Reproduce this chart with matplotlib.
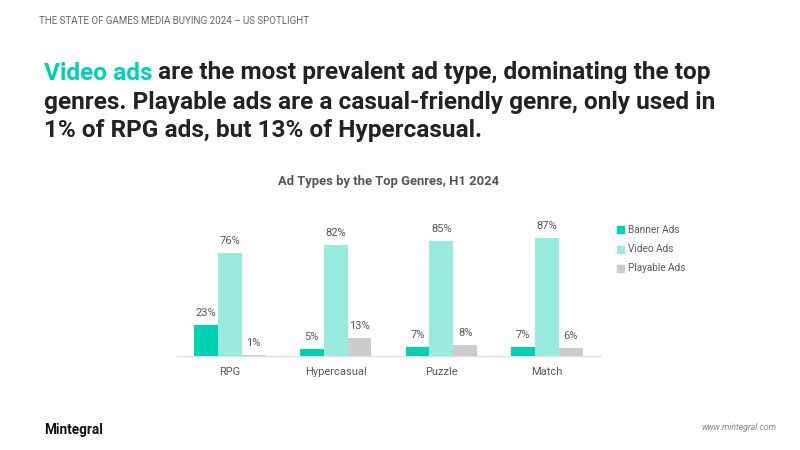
import matplotlib
matplotlib.use("Agg")
import matplotlib.pyplot as plt
import numpy as np

genres = ["RPG", "Hypercasual", "Puzzle", "Match"]
series_names = ["Banner Ads", "Video Ads", "Playable Ads"]
banner = [23, 5, 7, 7]
video = [76, 82, 85, 87]
playable = [1, 13, 8, 6]
colors = ["#00D1B2", "#99EBDD", "#CCCCCC"]

plt.rcParams['font.family'] = ['Roboto', 'DejaVu Sans']

W, H = 800, 450
fig = plt.figure(figsize=(8, 4.5), dpi=100)

ax_left, ax_right = 177 / W, 600 / W
ax_bottom = 1 - 356 / H
ax_top = 1 - (356 - 135.5) / H
ax = fig.add_axes([ax_left, ax_bottom, ax_right - ax_left, ax_top - ax_bottom])

x = np.arange(len(genres))
bw = 0.225
txtc = "#595959"
for i, (vals, name, c) in enumerate(zip([banner, video, playable], series_names, colors)):
    pos = x + (i - 1) * bw
    ax.bar(pos, vals, width=bw, color=c, label=name, zorder=3)
    for p, v in zip(pos, vals):
        ax.annotate(f"{v}%", (p, v), xytext=(0, 5), textcoords="offset points",
                    ha="center", va="bottom", fontsize=8, color=txtc)

ax.set_xlim(-0.5, 3.5)
ax.set_ylim(0, 100)
ax.set_xticks(x)
ax.set_xticklabels(genres, fontsize=8, color=txtc)
ax.tick_params(axis="x", length=0, pad=8)
ax.set_yticks([])
for s in ["top", "right", "left"]:
    ax.spines[s].set_visible(False)
ax.spines["bottom"].set_color("#E0E0E0")
ax.spines["bottom"].set_linewidth(1.0)
ax.spines["bottom"].set_zorder(1)
ax.patch.set_alpha(0)

# legend
leg_y = [230, 249, 268]
for yy, name, c in zip(leg_y, series_names, colors):
    fig.patches.append(plt.Rectangle((617 / W, 1 - (yy + 3.5) / H), 7 / W, 7 / H,
                                     transform=fig.transFigure, color=c, figure=fig))
    fig.text(628 / W, 1 - yy / H, name, fontsize=7.2, color=txtc, ha="left", va="center")

# chart title
fig.text(389 / W, 1 - 182 / H, "Ad Types by the Top Genres, H1 2024", fontsize=9.4,
         fontweight="bold", color="#555555", ha="center", va="center")

# header
fig.text(39 / W, 1 - 21 / H, "THE STATE OF GAMES MEDIA BUYING 2024 – US SPOTLIGHT",
         fontsize=7, color="#666666", ha="left", va="center")

# headline
hs = 17.6
hc = "#222222"
y1 = 1 - 73 / H
t = fig.text(44 / W, y1, "Video ads", fontsize=hs, fontweight="bold", color="#00D1B2",
             ha="left", va="center")
fig.canvas.draw()
bb = t.get_window_extent()
fig.text(bb.x1 / W + 5 / W, y1, "are the most prevalent ad type, dominating the top",
         fontsize=hs, fontweight="bold", color=hc, ha="left", va="center")
fig.text(44 / W, 1 - 103 / H,
         "genres. Playable ads are a casual-friendly genre, only used in",
         fontsize=hs, fontweight="bold", color=hc, ha="left", va="center")
fig.text(44 / W, 1 - 131 / H, "1% of RPG ads, but 13% of Hypercasual.",
         fontsize=hs, fontweight="bold", color=hc, ha="left", va="center")

# footer
fig.text(44 / W, 1 - 430 / H, "Mintegral", fontsize=9.8, fontweight="bold", color="#111111",
         ha="left", va="center")
fig.text(776 / W, 1 - 428 / H, "www.mintegral.com", fontsize=6.2, style="italic",
         color="#888888", ha="right", va="center")

fig.savefig("out.png", dpi=100, facecolor="white")
